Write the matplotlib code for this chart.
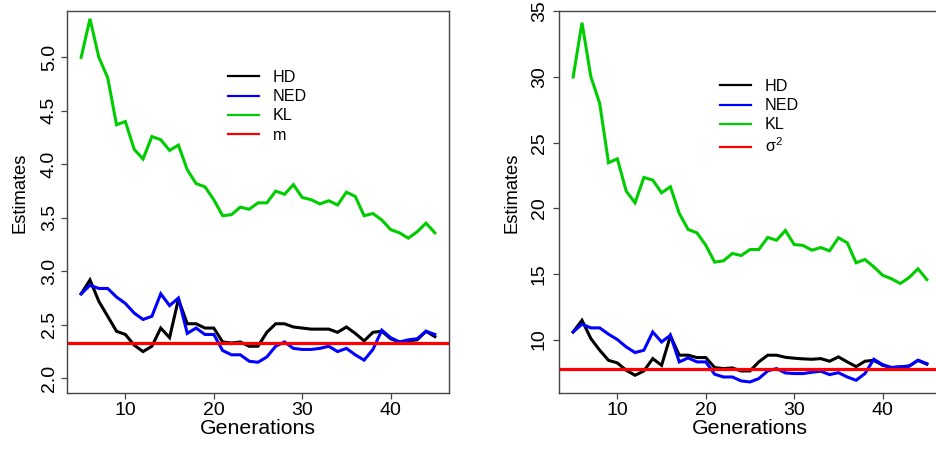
import matplotlib
matplotlib.use('Agg')
import matplotlib.pyplot as plt
from matplotlib.lines import Line2D
import numpy as np

plt.rcParams['font.family'] = ['Liberation Sans', 'DejaVu Sans']
plt.rcParams['mathtext.fontset'] = 'custom'
plt.rcParams['mathtext.rm'] = 'Liberation Sans'
plt.rcParams['mathtext.it'] = 'Liberation Sans:italic'

generations = np.arange(5, 46)

# left panel: estimates of m
hd_m = [2.79, 2.92, 2.72, 2.58, 2.44, 2.41, 2.31, 2.25, 2.30, 2.47,
        2.38, 2.74, 2.51, 2.51, 2.47, 2.47, 2.34, 2.33, 2.34, 2.30,
        2.30, 2.43, 2.51, 2.51, 2.48, 2.47, 2.46, 2.46, 2.46, 2.43,
        2.48, 2.42, 2.35, 2.43, 2.44, 2.37, 2.34, 2.35, 2.36, 2.44,
        2.39]
ned_m = [2.79, 2.87, 2.84, 2.84, 2.76, 2.70, 2.61, 2.55, 2.58, 2.79,
         2.68, 2.75, 2.42, 2.47, 2.41, 2.41, 2.26, 2.22, 2.22, 2.16,
         2.15, 2.20, 2.30, 2.34, 2.28, 2.27, 2.27, 2.28, 2.30, 2.25,
         2.28, 2.22, 2.17, 2.27, 2.45, 2.38, 2.34, 2.36, 2.37, 2.44,
         2.41]
kl_m = [5.00, 5.36, 5.00, 4.81, 4.37, 4.40, 4.14, 4.05, 4.26, 4.23,
        4.13, 4.18, 3.95, 3.82, 3.79, 3.67, 3.52, 3.53, 3.60, 3.58,
        3.64, 3.64, 3.75, 3.72, 3.81, 3.69, 3.67, 3.63, 3.66, 3.62,
        3.74, 3.70, 3.52, 3.54, 3.48, 3.39, 3.36, 3.31, 3.37, 3.45,
        3.36]
true_m = 2.333

# right panel: estimates of sigma^2
hd_s2 = [10.58, 11.47, 10.08, 9.19, 8.42, 8.22, 7.66, 7.28, 7.61, 8.55,
         8.04, 10.28, 8.81, 8.81, 8.63, 8.63, 7.87, 7.79, 7.84, 7.61,
         7.61, 8.30, 8.81, 8.81, 8.65, 8.58, 8.53, 8.50, 8.55, 8.35,
         8.68, 8.30, 7.94, 8.35, 8.42, 8.04, 7.87, 7.92, 7.99, 8.42,
         8.12]
ned_s2 = [10.58, 11.17, 10.89, 10.89, 10.41, 10.00, 9.44, 9.01, 9.19, 10.58,
          9.82, 10.33, 8.30, 8.60, 8.30, 8.30, 7.36, 7.15, 7.15, 6.85,
          6.77, 7.03, 7.61, 7.79, 7.46, 7.41, 7.41, 7.51, 7.59, 7.33,
          7.48, 7.15, 6.90, 7.41, 8.50, 8.09, 7.87, 7.92, 7.97, 8.42,
          8.17]
kl_s2 = [30.00, 34.14, 30.03, 28.00, 23.47, 23.77, 21.31, 20.42, 22.35, 22.15,
         21.18, 21.64, 19.61, 18.39, 18.13, 17.19, 15.90, 16.00, 16.56, 16.40,
         16.86, 16.86, 17.78, 17.57, 18.31, 17.24, 17.17, 16.81, 17.01, 16.76,
         17.75, 17.37, 15.85, 16.10, 15.54, 14.90, 14.63, 14.27, 14.73, 15.39,
         14.57]
true_s2 = 7.79

GREEN = '#00CD00'
W, H = 937, 449

fig = plt.figure(figsize=(W / 100, H / 100), dpi=100)


def panel(rect, hd, ned, kl, truth, truth_label, ylim, yticks, ylabels, leg_xy, ypad):
    ax = fig.add_axes(rect)
    ax.plot(generations, hd, color='black', lw=2.2, solid_joinstyle='miter')
    ax.plot(generations, ned, color='#0000FF', lw=2.2, solid_joinstyle='miter')
    ax.plot(generations, kl, color=GREEN, lw=2.2, solid_joinstyle='miter')
    ax.axhline(truth, color='#FF0000', lw=2.3)
    ax.set_xlim(3.4, 46.6)
    ax.set_ylim(*ylim)
    ax.set_xticks([10, 20, 30, 40])
    ax.set_yticks(yticks)
    ax.set_yticklabels(ylabels, rotation=90, va='center')
    ax.tick_params(length=4.5, width=0.9, color='#444444', labelsize=14, pad=2)
    ax.tick_params(axis='y', pad=ypad)
    for s in ax.spines.values():
        s.set_color('#444444')
        s.set_linewidth(1.0)
    ax.set_xlabel('Generations', fontsize=15.3, labelpad=0)
    ax.set_ylabel('Estimates', fontsize=13.2)
    ax.yaxis.set_label_coords(-0.101, 0.525)
    handles = [Line2D([], [], color=c, lw=1.6) for c in ['black', '#0000FF', GREEN, '#FF0000']]
    ax.legend(handles, ['HD', 'NED', 'KL', truth_label], loc='upper left',
              bbox_to_anchor=leg_xy, frameon=False, fontsize=11.6,
              handlelength=1.9, handletextpad=0.9, labelspacing=0.26,
              borderpad=0, borderaxespad=0)
    return ax


ax_h = 382 / H
ax_w = 382 / W
bottom = (H - 393) / H

panel([67 / W, bottom, ax_w, ax_h], hd_m, ned_m, kl_m, true_m, 'm',
      (1.863, 5.433), [2.0, 2.5, 3.0, 3.5, 4.0, 4.5, 5.0],
      ['2.0', '2.5', '3.0', '3.5', '4.0', '4.5', '5.0'],
      ((228 - 67) / 382, (393 - 70) / 382), 2)

panel([559 / W, bottom, ax_w, ax_h], hd_s2, ned_s2, kl_s2, true_s2, r'$\mathrm{\sigma}^2$',
      (5.93, 35.03), [10, 15, 20, 25, 30, 35],
      ['10', '15', '20', '25', '30', '35'],
      ((720 - 559) / 382, (393 - 79) / 382), 3.5)

fig.savefig('out.png', dpi=100)
